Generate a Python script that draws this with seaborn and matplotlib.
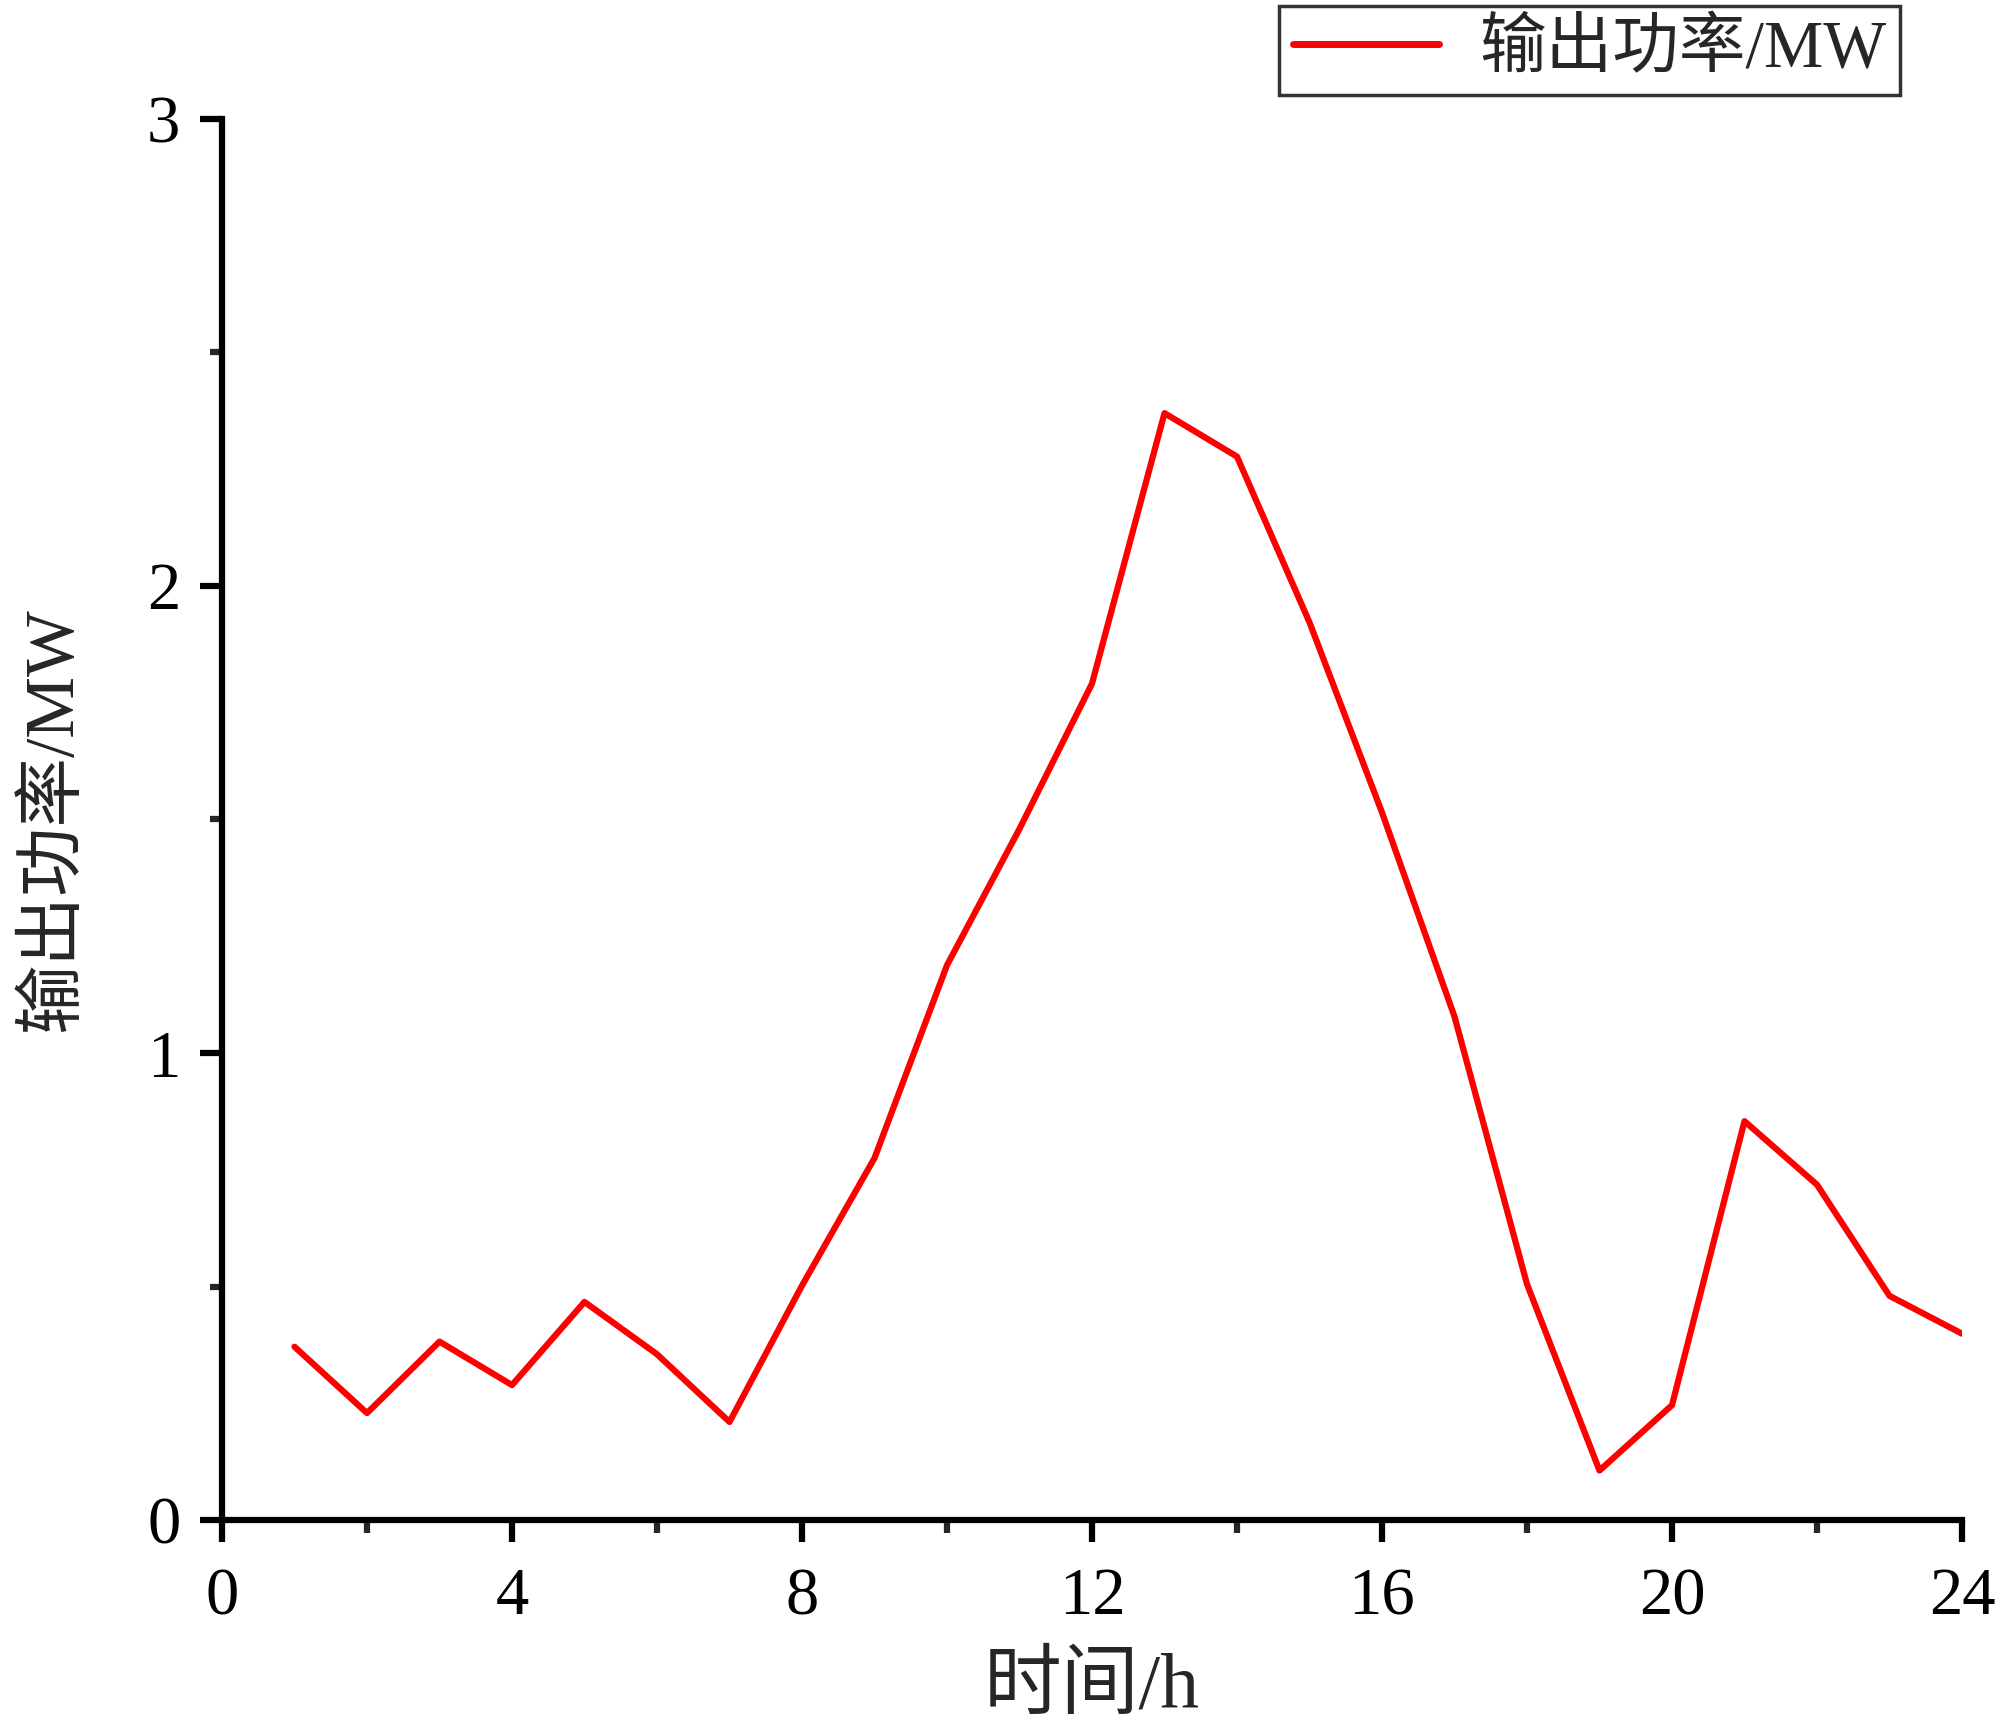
import numpy as np
import pandas as pd
import matplotlib
matplotlib.use('Agg')
import matplotlib.pyplot as plt
import seaborn as sns
from matplotlib.ticker import MultipleLocator

# hourly output power
hours = list(range(1, 25))
power = [0.371, 0.229, 0.382, 0.289, 0.467, 0.355, 0.210, 0.502, 0.775, 1.188,
         1.480, 1.791, 2.370, 2.277, 1.922, 1.515, 1.078, 0.505, 0.106, 0.246,
         0.854, 0.718, 0.480, 0.399]
series_label = '输出功率/MW'

sns.set_style('ticks')
plt.rcParams['font.family'] = ['Liberation Serif', 'Noto Sans CJK SC', 'DejaVu Sans']

df = pd.DataFrame({'hour': hours, 'power': power})

fig = plt.figure(figsize=(20, 17.34), dpi=100)
ax = fig.add_axes([0.111, 0.1234, 0.870, 0.808])
sns.lineplot(data=df, x='hour', y='power', color='#ff0000', linewidth=4.5,
             label=series_label, ax=ax)

ax.set_xlim(0, 24)
ax.set_ylim(0, 3)
ax.xaxis.set_major_locator(MultipleLocator(4))
ax.xaxis.set_minor_locator(MultipleLocator(2))
ax.yaxis.set_major_locator(MultipleLocator(1))
ax.yaxis.set_minor_locator(MultipleLocator(0.5))
ax.tick_params(which='major', length=16, width=4.5, labelsize=48, colors='black')
ax.tick_params(which='minor', length=9, width=4.5)
ax.tick_params(axis='x', which='major', pad=18)
ax.tick_params(axis='y', which='major', pad=14)
for s in ['top', 'right']:
    ax.spines[s].set_visible(False)
for s in ['left', 'bottom']:
    ax.spines[s].set_linewidth(4.5)
    ax.spines[s].set_color('black')

ax.set_xlabel('时间/h', fontsize=56, labelpad=18)
ax.set_ylabel('输出功率/MW', fontsize=50, labelpad=44)

leg = ax.legend(loc='upper right', bbox_to_anchor=(0.95, 0.9965),
                bbox_transform=fig.transFigure, fontsize=48,
                frameon=True, fancybox=False, handlelength=2.2, borderpad=0.2,
                handletextpad=0.6, borderaxespad=0)
leg.get_frame().set_edgecolor('black')
leg.get_frame().set_linewidth(2.5)
leg.get_lines()[0].set_linewidth(5)

fig.savefig('out.png', dpi=100)
